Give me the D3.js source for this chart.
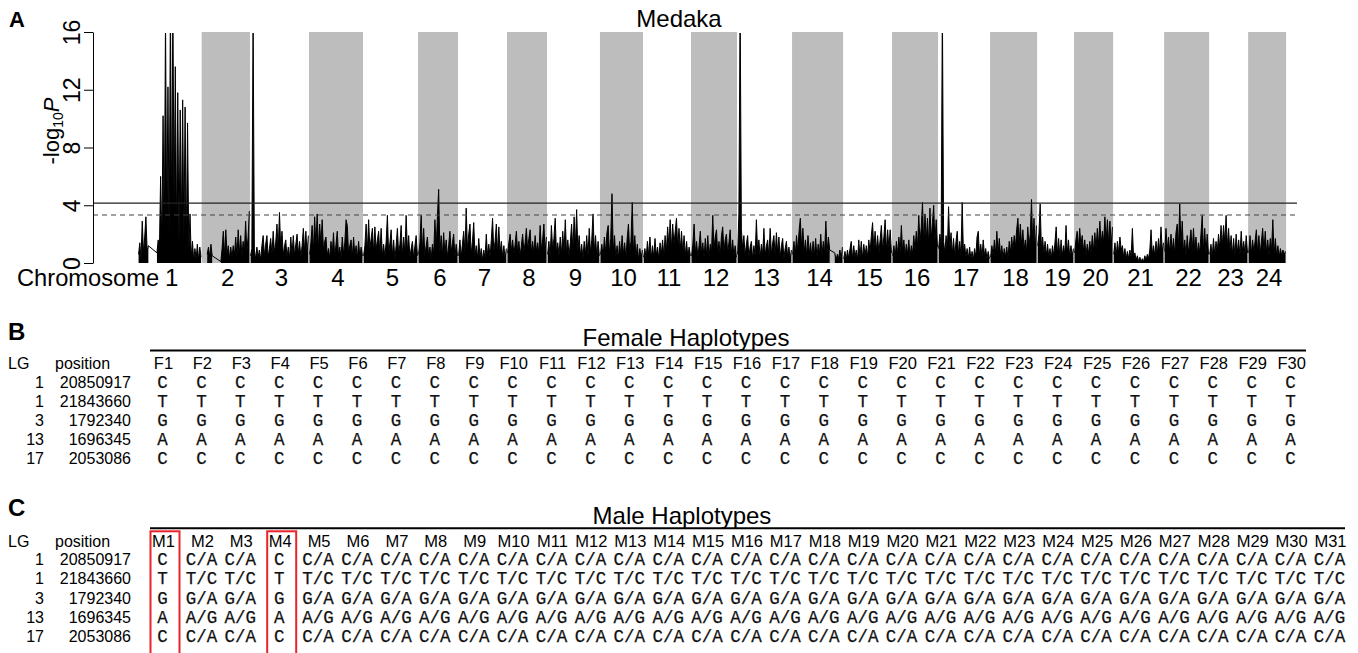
<!DOCTYPE html>
<html><head><meta charset="utf-8">
<script src="https://cdn.jsdelivr.net/npm/d3@7"></script>
<style>body{margin:0;background:#fff}svg{display:block}</style>
</head><body>
<svg id="fig" width="1358" height="653"></svg>
<script>
// ---------- Panel A data ----------
const chromosomes = ["1","2","3","4","5","6","7","8","9","10","11","12","13","14","15","16","17","18","19","20","21","22","23","24"];
const chrLengthMb = [39.8,30.2,36.9,33.75,34.4,25,30.6,25,33.1,26.9,30,28.75,34.4,31.9,30.6,28.75,32.5,29.4,23.1,24.4,31.9,28.1,24.4,23.75];
const yTicks = [0,4,8,12,16];
const thresholdSolid = 4.15;
const thresholdDashed = 3.32;

// -log10 P along each chromosome (evenly spaced markers; null = no markers)
const chr1 = [0.6,1.4,0.3,2.9,0.7,1.8,3.2,0.8,1.2,null,null,null,null,null,null,0.7,1.6,0.9,6.0,1.2,10.2,2.0,17,2.5,12.2,1.5,18,3,18,4,13.6,2,11.8,1.2,10.6,2.5,11.3,1.5,10.8,1.0,9.7,0.8,3.4,0.4,1.5,0.2,1.0,0.3,1.3,0.2,1.1,0.4];
const chr2 = [null,null,null,null,0.6,1.1,0.4,1.3,0.5,null,null,null,null,null,null,0.1,1.0,2.2,0.5,2.3,0.6,1.2,0.3,1.1,0.4,1.2,0.5,1.8,0.4,2.3,0.6,1.9,0.5,1.5,0.7,2.9,0.8,1.8,3.6];
const chr3 = [0.5,1.0,17,0.9,0.3,1.1,0.4,0.9,0.2,1.2,1.9,0.5,1.3,1.9,0.4,1.0,1.7,0.6,2.2,0.7,1.4,2.7,0.9,3.5,1.0,2.2,0.5,1.2,1.6,0.4,1.1,0.3,1.8,0.6,1.9,0.5,1.3,2.0,0.6,1.5,0.4,1.2,2.4,0.8,2.2,0.6,1.9];
const chr4 = [0.6,1.4,2.6,0.8,3.2,1.2,3.4,1.0,2.7,1.3,3.0,0.9,1.5,1.8,0.5,1.0,0.3,1.5,0.6,2.1,0.4,1.3,2.2,0.5,1.1,0.3,1.8,0.6,1.4,3.0,2.6,0.7,1.2,1.6,0.4,1.8,0.5,1.2,0.3,1.5,0.4,1.1,0.5];
const chr5 = [0.5,1.2,2.7,0.8,3.0,1.0,1.7,2.4,0.7,2.5,0.9,1.6,2.2,0.6,2.4,0.5,1.3,0.4,1.5,3.3,0.6,1.4,2.3,0.5,1.6,0.3,1.2,2.4,0.6,1.3,2.6,0.5,1.8,0.7,3.3,0.8,1.9,0.4,1.0,1.5,0.3,1.2,1.9,0.5];
const chr6 = [0.6,1.4,3.3,0.8,2.4,0.5,1.2,1.8,0.4,1.1,0.3,1.3,0.6,3.0,1.0,3.2,5.1,0.7,1.9,0.5,2.1,0.6,1.6,0.4,1.2,2.2,0.7,1.4,2.0,0.4,1.3,0.5];
const chr7 = [0.5,1.6,0.4,1.3,2.2,0.7,3.8,0.9,2.0,2.7,0.6,1.5,2.8,0.5,1.2,0.3,1.7,0.4,1.0,0.2,0.9,0.3,2.0,0.5,1.3,0.4,1.6,3.1,0.8,1.5,2.7,0.6,2.5,0.7,1.5,0.4,1.2,0.3,1.0];
const chr8 = [0.7,1.4,2.0,0.8,1.6,0.6,1.3,2.2,0.7,1.5,0.5,1.2,2.0,0.8,1.4,2.4,0.9,1.7,2.3,0.7,1.5,0.6,1.9,0.8,1.4,0.6,2.6,0.9,1.6,2.7,0.8,1.8];
const chr9 = [0.6,1.5,0.4,2.6,0.9,1.7,3.1,0.7,1.4,0.5,1.8,0.6,2.2,0.8,3.0,0.7,1.6,0.5,1.4,2.7,0.9,3.2,1.2,3.7,0.8,1.9,0.5,1.3,0.3,1.5,0.6,1.9,0.5,2.4,0.7,1.6,3.4,0.8,1.9,0.4,1.5,0.5];
const chr10 = [0.6,1.3,0.4,1.8,0.7,2.1,2.6,0.6,1.7,4.8,0.8,1.9,0.4,1.2,0.3,1.5,0.5,1.9,0.6,1.4,0.3,1.7,2.7,0.7,1.5,4.2,0.6,1.9,0.4,1.3,0.2,1.0,0.3,0.9];
const chr11 = [0.4,1.0,0.3,1.5,0.5,1.8,0.3,1.2,0.4,1.7,0.5,1.1,0.3,1.4,0.6,1.6,0.5,1.9,0.8,2.5,1.2,3.0,1.0,2.7,1.3,2.2,3.1,1.1,2.4,0.9,2.2,0.7,1.9,0.5,1.5,0.4,1.1,0.5];
const chr12 = [0.5,1.3,2.7,0.7,1.5,0.4,1.2,2.2,0.6,1.4,0.3,1.7,0.5,1.9,0.4,1.3,0.7,3.3,1.0,1.8,2.3,0.6,1.5,0.5,1.9,2.5,0.8,1.6,2.0,0.7,1.4,2.3,0.6,1.6,0.5,1.2,0.4];
const chr13 = [0.6,3.4,18,2.3,1.0,1.9,0.5,1.3,1.9,0.4,1.1,1.5,0.3,1.2,0.5,3.0,0.8,1.6,0.4,1.3,0.6,2.4,0.5,1.2,1.6,0.4,2.4,0.6,1.4,1.9,0.5,2.1,0.7,1.8,0.4,1.2,1.7,0.3,1.0,1.5,0.4,1.1,0.3,0.9];
const chr14 = [0.6,1.5,0.5,1.9,0.8,2.2,3.1,1.0,2.4,0.7,1.6,0.5,1.9,0.6,1.4,0.4,1.5,0.5,1.7,0.4,1.3,0.6,2.0,0.5,1.5,0.7,2.9,0.8,1.8,0.9,null,null,null,0.7,0.2,0.6,0.3,0.9,0.3,1.1];
const chr15 = [0.3,0.8,0.2,0.9,0.3,1.0,1.5,0.3,1.2,0.4,0.9,0.2,1.6,0.4,1.5,0.3,1.3,0.5,1.2,0.4,1.6,0.7,1.9,2.8,0.9,2.2,0.8,1.9,0.7,1.6,2.6,0.9,1.8,3.0,0.8,2.3,1.0,2.3,0.7];
const chr16 = [0.5,1.2,0.4,1.5,0.6,1.8,0.7,2.6,0.8,1.6,0.5,1.3,0.6,1.6,0.4,1.2,0.6,1.9,0.9,2.2,1.1,3.3,1.4,2.5,4.2,1.3,3.4,1.5,3.1,1.2,3.8,1.6,2.8,4.0,1.4,3.0,1.1];
const chr17 = [1.0,2.0,1.2,18,1.5,0.7,1.9,0.8,3.9,1.0,2.1,0.6,1.7,0.5,1.5,2.2,0.6,1.5,0.5,4.2,0.7,1.3,0.4,1.0,0.3,1.1,0.3,0.8,0.2,1.0,0.4,1.8,2.2,0.5,1.3,0.4,1.6,0.5,1.0,0.3,0.8,0.3];
const chr18 = [0.4,1.2,0.5,1.6,0.6,2.2,0.7,1.7,0.5,1.2,0.3,1.0,0.4,1.1,0.3,1.5,0.7,1.8,0.9,1.9,1.1,2.3,3.1,1.3,2.7,1.2,2.3,0.9,1.6,0.7,2.5,1.2,2.0,4.4,1.3,3.1,1.0,2.6];
const chr19 = [1.2,2.0,4.1,1.0,1.8,0.6,1.5,0.5,1.3,0.4,1.0,0.3,1.2,0.5,1.4,2.5,0.6,1.7,0.4,1.6,0.5,1.2,0.6,2.6,0.7,1.6,0.4,1.2,0.5,1.0];
const chr20 = [0.7,1.6,2.2,1.0,2.4,1.2,1.9,0.8,1.6,0.5,1.3,0.6,1.5,0.7,1.9,0.8,2.1,1.0,2.4,1.2,2.9,1.3,2.2,1.4,3.2,1.5,3.0,1.3,2.9,1.2,2.5];
const chr21 = [0.6,1.4,0.5,1.5,0.7,1.8,0.9,1.2,0.4,1.0,0.3,0.8,0.3,0.9,0.4,2.4,0.3,0.7,0.2,0.5,0.1,0.4,0.1,0.3,0.1,0.5,0.2,0.6,0.3,0.9,2.3,0.6,1.2,0.5,1.5,0.6,1.7,0.7,2.5,0.8,1.4];
const chr22 = [0.8,2.4,0.9,1.8,0.7,2.0,0.8,1.7,0.6,2.1,2.7,1.0,4.1,1.2,2.9,0.7,1.6,0.5,1.9,0.7,1.5,2.3,0.8,2.4,0.9,1.8,0.6,1.4,0.7,2.0,3.3,0.8,2.4,0.7,2.0,0.6];
const chr23 = [0.6,1.3,0.4,1.7,0.5,1.5,0.8,2.0,1.0,2.6,1.2,2.6,1.4,3.3,1.1,2.4,0.8,1.9,0.6,1.7,0.5,2.0,0.7,1.6,0.5,2.2,0.8,1.5,0.6,1.9,0.7];
const chr24 = [0.7,1.9,0.6,1.6,0.8,1.5,2.3,0.7,1.9,0.6,1.5,2.4,0.8,2.2,0.7,1.6,0.5,1.7,0.9,3.0,0.6,1.7,0.5,1.2,0.4,1.0,0.5,0.9,0.6,0.8];
const chrValues = [chr1,chr2,chr3,chr4,chr5,chr6,chr7,chr8,chr9,chr10,chr11,chr12,chr13,chr14,chr15,chr16,chr17,chr18,chr19,chr20,chr21,chr22,chr23,chr24];

// ---------- Panels B / C data ----------
const snpLG = ["1","1","3","13","17"];
const snpPosition = ["20850917","21843660","1792340","1696345","2053086"];
const femaleIds = ["F1","F2","F3","F4","F5","F6","F7","F8","F9","F10","F11","F12","F13","F14","F15","F16","F17","F18","F19","F20","F21","F22","F23","F24","F25","F26","F27","F28","F29","F30"];
const maleIds = ["M1","M2","M3","M4","M5","M6","M7","M8","M9","M10","M11","M12","M13","M14","M15","M16","M17","M18","M19","M20","M21","M22","M23","M24","M25","M26","M27","M28","M29","M30","M31"];
const femaleCalls = ["C","T","G","A","C"];          // every female
const homozygousCalls = ["C","T","G","A","C"];
const heterozygousCalls = ["C/A","T/C","G/A","A/G","C/A"];
const maleHomozygous = ["M1","M4"];                  // boxed in red

// ---------- drawing ----------
const svg = d3.select("#fig");
svg.append("rect").attr("width",1358).attr("height",653).attr("fill","#fff");
const SANS = "'Liberation Sans', Arial, sans-serif";
const MONO = "'Liberation Mono', 'Courier New', monospace";

const x = d3.scaleLinear().domain([-28.1, 724.4]).range([93, 1297]);
const y = d3.scaleLinear().domain([0, 16]).range([263, 32]);
const offsets = d3.cumsum([0, ...chrLengthMb]);

const A = svg.append("g");
A.selectAll("rect.band").data(chromosomes.map((c,i)=>({c,i})).filter(d=>d.i%2===1))
  .join("rect").attr("class","band")
  .attr("x", d=>x(offsets[d.i])).attr("width", d=>x(offsets[d.i]+chrLengthMb[d.i])-x(offsets[d.i]))
  .attr("y", y(16)).attr("height", y(0)-y(16)).attr("fill","#bdbdbd");

svg.append("defs").append("clipPath").attr("id","plotclip")
  .append("rect").attr("x",93).attr("y",y(16)+1).attr("width",1297-93).attr("height",y(0)-y(16)+1);

const dataG = A.append("g").attr("clip-path","url(#plotclip)");
const area = d3.area().defined(d=>d.v!=null).x(d=>x(d.pos)).y0(y(0)).y1(d=>y(d.v));
const line = d3.line().x(d=>x(d.pos)).y(d=>y(d.v));
chrValues.forEach((vals,i)=>{
  const n = vals.length;
  const pts = vals.map((v,j)=>({pos: offsets[i] + chrLengthMb[i]*(j+0.5)/n, v}));
  dataG.append("path").attr("d", area(pts)).attr("fill","#000");
  dataG.append("path").attr("d", line(pts.filter(d=>d.v!=null)))
    .attr("fill","none").attr("stroke","#000").attr("stroke-width",1).attr("stroke-linejoin","round");
});

A.append("line").attr("x1",93).attr("x2",1297).attr("y1",y(thresholdSolid)).attr("y2",y(thresholdSolid))
  .attr("stroke","#222").attr("stroke-width",1.1);
A.append("line").attr("x1",93).attr("x2",1297).attr("y1",y(thresholdDashed)).attr("y2",y(thresholdDashed))
  .attr("stroke","#444").attr("stroke-width",1.1).attr("stroke-dasharray","5,4");

const yAxis = A.append("g").attr("transform","translate(93,0)")
  .call(d3.axisLeft(y).tickValues(yTicks).tickSize(9).tickSizeOuter(0).tickFormat(d3.format("d")));
yAxis.select(".domain").attr("stroke","#000");
yAxis.selectAll(".tick line").attr("stroke","#000");
yAxis.selectAll(".tick text").attr("x",null).attr("dy",null).attr("text-anchor","middle")
  .attr("transform","translate(-13,0) rotate(-90)")
  .attr("font-family",SANS).attr("font-size",23).attr("fill","#000");

const yl = A.append("text").attr("transform","translate(59,131) rotate(-90)")
  .attr("text-anchor","middle").attr("font-family",SANS).attr("font-size",22).attr("fill","#000");
yl.append("tspan").text("-log");
yl.append("tspan").attr("font-size",14).attr("dy",4).text("10");
yl.append("tspan").attr("font-style","italic").attr("dy",-4).text("P");

A.append("text").attr("x",17).attr("y",286).attr("font-family",SANS).attr("font-size",23.7).text("Chromosome");
A.selectAll("text.chr").data(chromosomes).join("text").attr("class","chr")
  .attr("x",(d,i)=>x(offsets[i]+chrLengthMb[i]/2)+2).attr("y",286)
  .attr("text-anchor","middle").attr("font-family",SANS).attr("font-size",24).text(d=>d);

A.append("text").attr("x",679).attr("y",26.5).attr("text-anchor","middle")
  .attr("font-family",SANS).attr("font-size",24).text("Medaka");
svg.append("text").attr("x",9).attr("y",27).attr("font-family",SANS).attr("font-weight","bold").attr("font-size",22).text("A");

// ---------- tables ----------
function table(opts){
  const g = svg.append("g");
  g.append("text").attr("x",8).attr("y",opts.letterY).attr("font-family",SANS).attr("font-weight","bold")
    .attr("font-size",24).text(opts.letter);
  g.append("text").attr("x",opts.titleX).attr("y",opts.titleY).attr("text-anchor","middle")
    .attr("font-family",SANS).attr("font-size",24).text(opts.title);
  g.append("line").attr("x1",150).attr("x2",opts.lineEnd).attr("y1",opts.lineY).attr("y2",opts.lineY)
    .attr("stroke","#000").attr("stroke-width",2);
  const col = d3.scalePoint().domain(opts.ids).range([163.5, 163.5 + (opts.ids.length-1)*38.9]);
  const rowY = i => opts.row0 + i*opts.rowStep;
  g.append("text").attr("x",8).attr("y",opts.headY).attr("font-family",SANS).attr("font-size",16).text("LG");
  g.append("text").attr("x",55).attr("y",opts.headY).attr("font-family",SANS).attr("font-size",16).text("position");
  g.selectAll("text.id").data(opts.ids).join("text").attr("class","id")
    .attr("x",d=>col(d)).attr("y",opts.headY).attr("text-anchor","middle")
    .attr("font-family",SANS).attr("font-size",16.5).text(d=>d);
  snpLG.forEach((lg,i)=>{
    g.append("text").attr("x",44).attr("y",rowY(i)).attr("text-anchor","end")
      .attr("font-family",SANS).attr("font-size",16).text(lg);
    g.append("text").attr("x",131).attr("y",rowY(i)).attr("text-anchor","end")
      .attr("font-family",SANS).attr("font-size",16).text(snpPosition[i]);
    g.selectAll(null).data(opts.ids).join("text")
      .attr("x",d=>col(d)-1).attr("y",rowY(i)).attr("text-anchor","middle")
      .attr("font-family",MONO).attr("font-size",17.5).attr("fill","#111")
      .attr("stroke","#111").attr("stroke-width",0.25)
      .text(d=>opts.call(d,i));
  });
  if (opts.boxes) {
    g.selectAll("rect.box").data(opts.boxes).join("rect").attr("class","box")
      .attr("x",d=>col(d)-13).attr("width",29).attr("y",opts.lineY+3).attr("height",140)
      .attr("fill","none").attr("stroke","#e8232b").attr("stroke-width",2);
  }
}

table({letter:"B", letterY:339.5, title:"Female Haplotypes", titleX:686, titleY:345.7,
  lineY:350.5, lineEnd:1306, ids:femaleIds, headY:369.3, row0:388.4, rowStep:18.9,
  call:(id,i)=>femaleCalls[i]});
table({letter:"C", letterY:516, title:"Male Haplotypes", titleX:682, titleY:524,
  lineY:528.3, lineEnd:1345, ids:maleIds, headY:547, row0:565.3, rowStep:19.1,
  call:(id,i)=>maleHomozygous.includes(id) ? homozygousCalls[i] : heterozygousCalls[i],
  boxes:maleHomozygous});
</script>
</body></html>
